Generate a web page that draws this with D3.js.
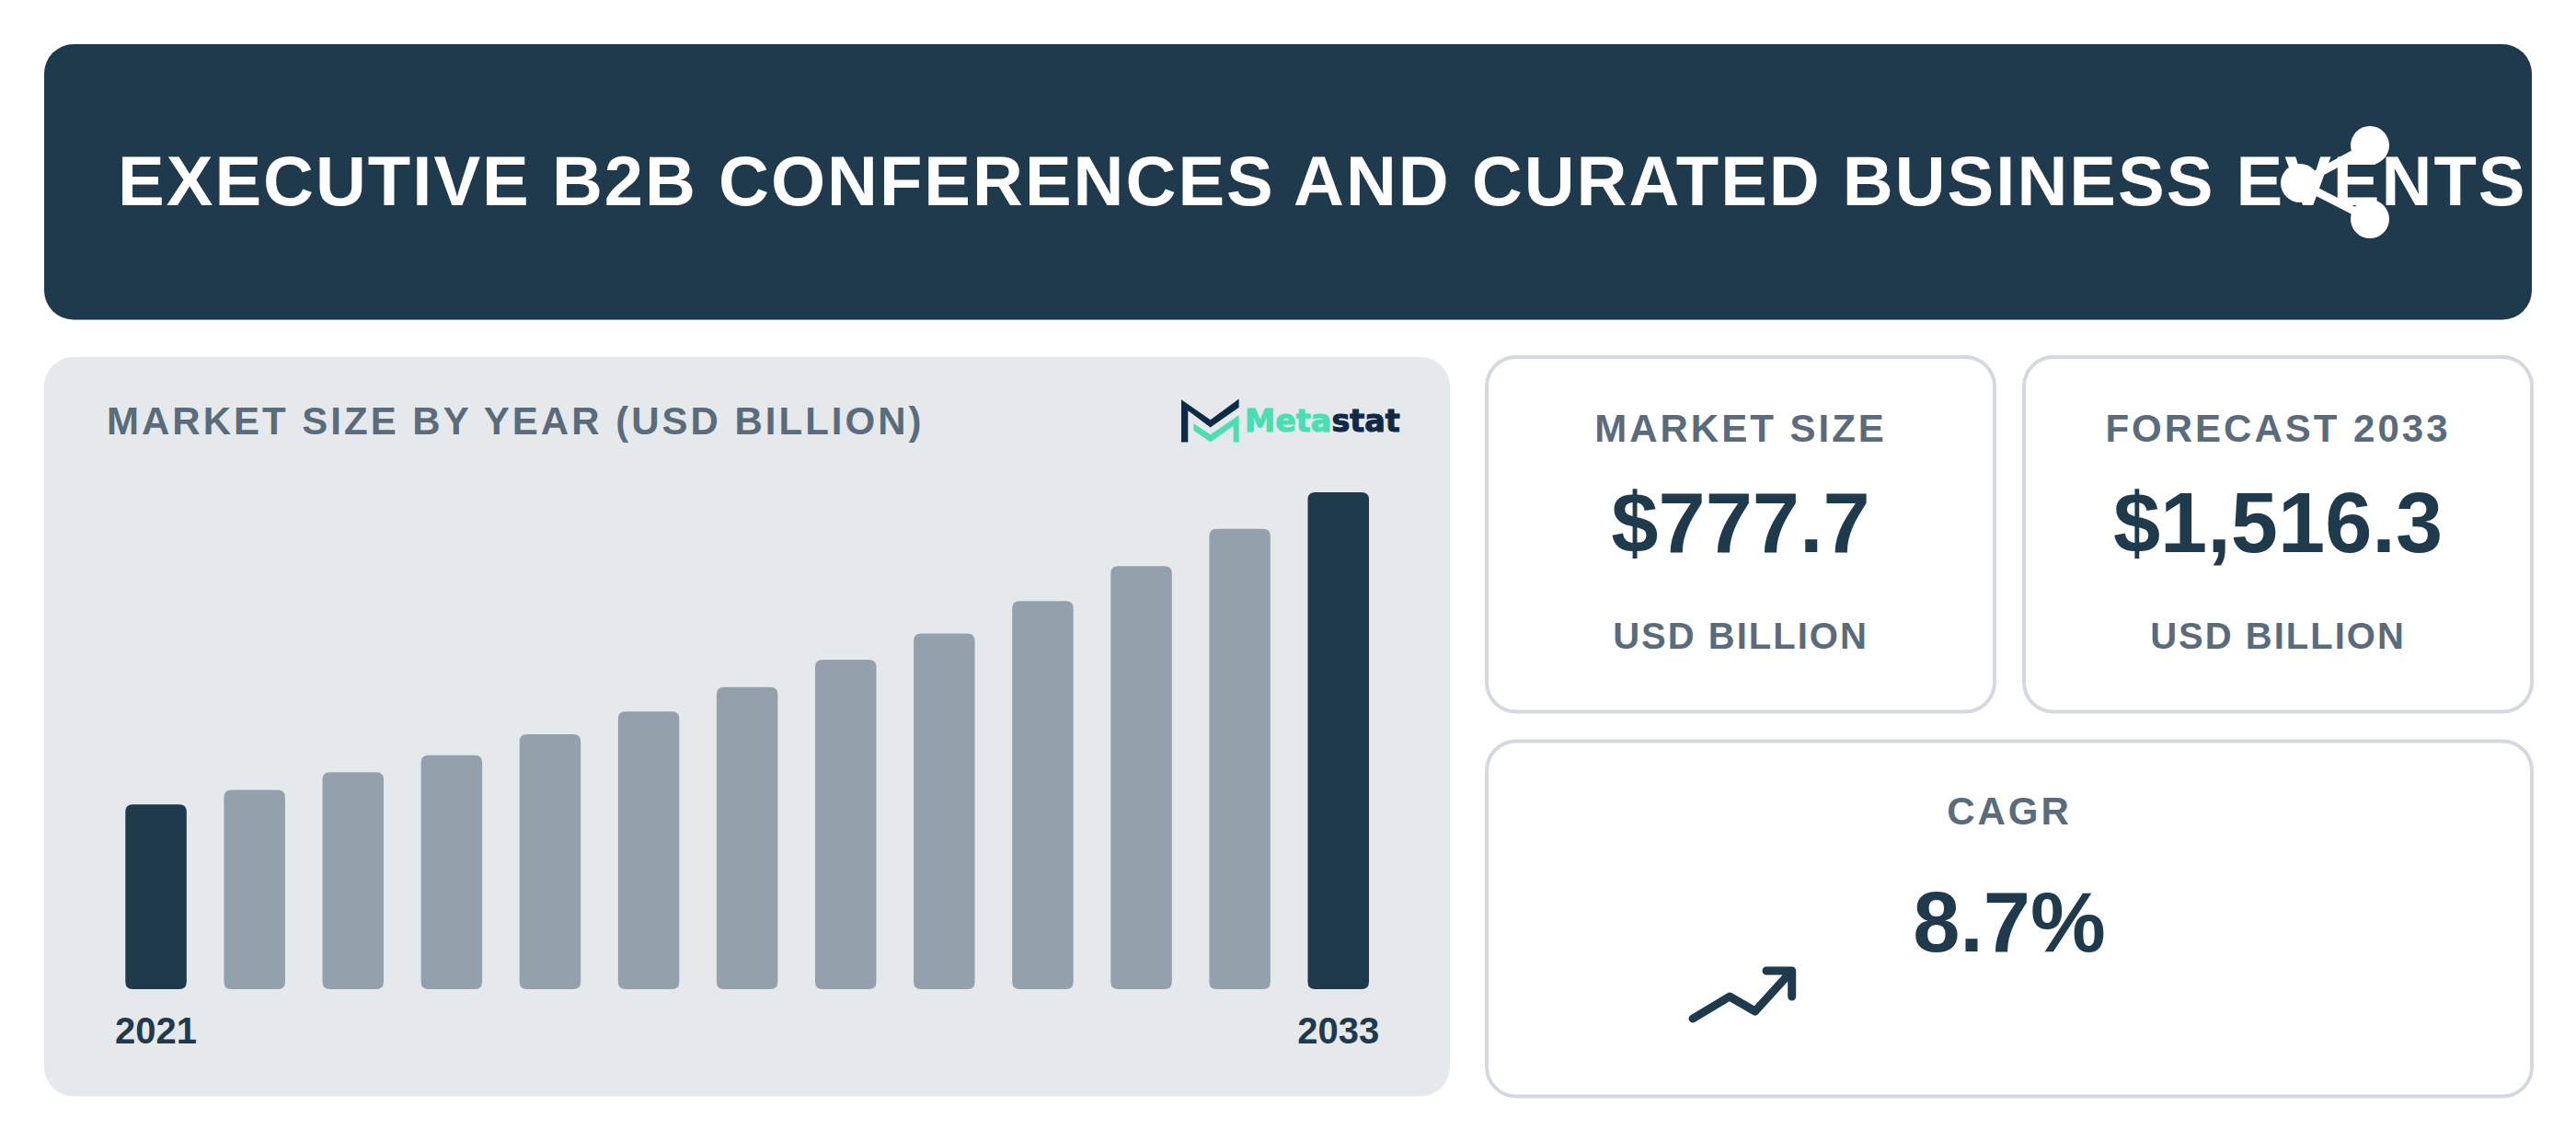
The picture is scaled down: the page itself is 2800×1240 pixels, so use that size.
<!DOCTYPE html>
<html><head><meta charset="utf-8">
<script src="https://cdn.jsdelivr.net/npm/d3@7/dist/d3.min.js"></script>
<style>html,body{margin:0;padding:0;background:#fff}svg{display:block}text{font-family:"Liberation Sans",Arial,sans-serif;font-weight:700}</style>
</head><body><div id="c"></div>
<script>
const years=[2021,2022,2023,2024,2025,2026,2027,2028,2029,2030,2031,2032,2033];
const marketSize=[564,608,662,714,777.7,847,922,1005,1085,1184,1291,1405,1516.3];
const tickLabels=[2021,2033];
const titleText="EXECUTIVE B2B CONFERENCES AND CURATED BUSINESS EVENTS";
const chartTitle="MARKET SIZE BY YEAR (USD BILLION)";
const kpiCards=[
 {label:"MARKET SIZE",value:"$777.7",unit:"USD BILLION"},
 {label:"FORECAST 2033",value:"$1,516.3",unit:"USD BILLION"},
 {label:"CAGR",value:"8.7%",unit:""}];
const DARK="#1f3a4d",GRAY="#94a1ac",PANEL="#e5e9ec",MUTED="#5a6b7c",BORDER="#d3d9de";

const svg=d3.select("#c").append("svg").attr("width",2800).attr("height",1240);
const rrect=(x,y,w,h,r,f,s,sw)=>svg.append("rect").attr("x",x).attr("y",y).attr("width",w).attr("height",h).attr("rx",r).attr("fill",f).attr("stroke",s||"none").attr("stroke-width",sw||0);
const txt=(x,y,t,size,fill,ls,anchor)=>svg.append("text").attr("x",x).attr("y",y).attr("font-size",size).attr("fill",fill).attr("letter-spacing",ls||0).attr("text-anchor",anchor||"middle").text(t);

// header
rrect(48,48,2704,299.5,32,DARK);
txt(128,223,titleText,76,"#fff",2,"start");
// share icon
const share=svg.append("g").attr("fill","#fff").attr("stroke","#fff");
share.append("path").attr("d","M2500 199L2576 158M2500 199L2576 238").attr("stroke-width",9).attr("fill","none");
[[2576,158],[2500,199],[2576,238]].forEach(p=>share.append("circle").attr("cx",p[0]).attr("cy",p[1]).attr("r",21).attr("stroke","none"));

// chart panel
rrect(48,388,1528,803.5,32,PANEL);
txt(116,471.5,chartTitle,42,MUTED,3,"start");

const x=d3.scaleBand().domain(years).range([136.3,1488]).paddingInner(0.379).paddingOuter(0);
const y=d3.scaleLinear().domain([0,1516.3]).range([1075,535]);
const barPath=(x0,y0,w,h,r)=>`M${x0} ${y0+r}Q${x0} ${y0} ${x0+r} ${y0}H${x0+w-r}Q${x0+w} ${y0} ${x0+w} ${y0+r}V${y0+h-r}Q${x0+w} ${y0+h} ${x0+w-r} ${y0+h}H${x0+r}Q${x0} ${y0+h} ${x0} ${y0+h-r}Z`;
svg.append("g").selectAll("path").data(years).join("path")
  .attr("d",(d,i)=>barPath(x(d),y(marketSize[i]),x.bandwidth(),y(0)-y(marketSize[i]),8))
  .attr("fill",d=>tickLabels.includes(d)?DARK:GRAY);
const axis=d3.axisBottom(x).tickValues(tickLabels).tickSize(0).tickPadding(0).tickFormat(d3.format("d"));
const ax=svg.append("g").attr("transform","translate(0,1134)").call(axis);
ax.select(".domain").remove();
ax.selectAll("text").attr("dy",0).attr("y",0).attr("font-size",40).attr("fill",DARK).style("font-family",'"Liberation Sans"').style("font-weight",700);

// logo
const logo=svg.append("g").attr("transform","translate(1250,399.5) scale(0.3333)");
logo.append("path").attr("fill","#0f2a47").attr("d","M102 104L197 170L290 102V130L197 195L124 140V243H102Z");
logo.append("path").attr("fill","#4adeb0").attr("d","M142 182L197 218L290 155V243H272V190L197 243L142 205Z");
const lt=svg.append("text").attr("x",1353).attr("y",469.3).attr("font-size",33.4).attr("stroke-width",1.1).style("font-family",'"DejaVu Sans"').style("font-weight",700);
lt.append("tspan").attr("fill","#4adeb0").attr("stroke","#4adeb0").text("Meta");
lt.append("tspan").attr("fill","#0f2a47").attr("stroke","#0f2a47").text("stat");

// KPI cards
const cardBoxes=[[1616,388,552,385.5],[2200,388,552,385.5],[1616,805.5,1136,386]];
const textRows=[[480,599.5,704.5],[480,599.5,704.5],[896,1034,null]];
kpiCards.forEach((c,i)=>{
  const b=cardBoxes[i],cx=b[0]+b[2]/2;
  rrect(b[0],b[1],b[2],b[3],32,"#fff",BORDER,4);
  txt(cx,textRows[i][0],c.label,42,MUTED,3);
  txt(cx,textRows[i][1],c.value,92,DARK,0);
  if(c.unit) txt(cx,textRows[i][2],c.unit,40,MUTED,2);
});
// trend icon
svg.append("path").attr("d","M1840 1107L1880 1083L1907.7 1099L1947.7 1055M1920 1055H1947.7V1083")
  .attr("fill","none").attr("stroke",DARK).attr("stroke-width",9).attr("stroke-linecap","round").attr("stroke-linejoin","round");
</script></body></html>
